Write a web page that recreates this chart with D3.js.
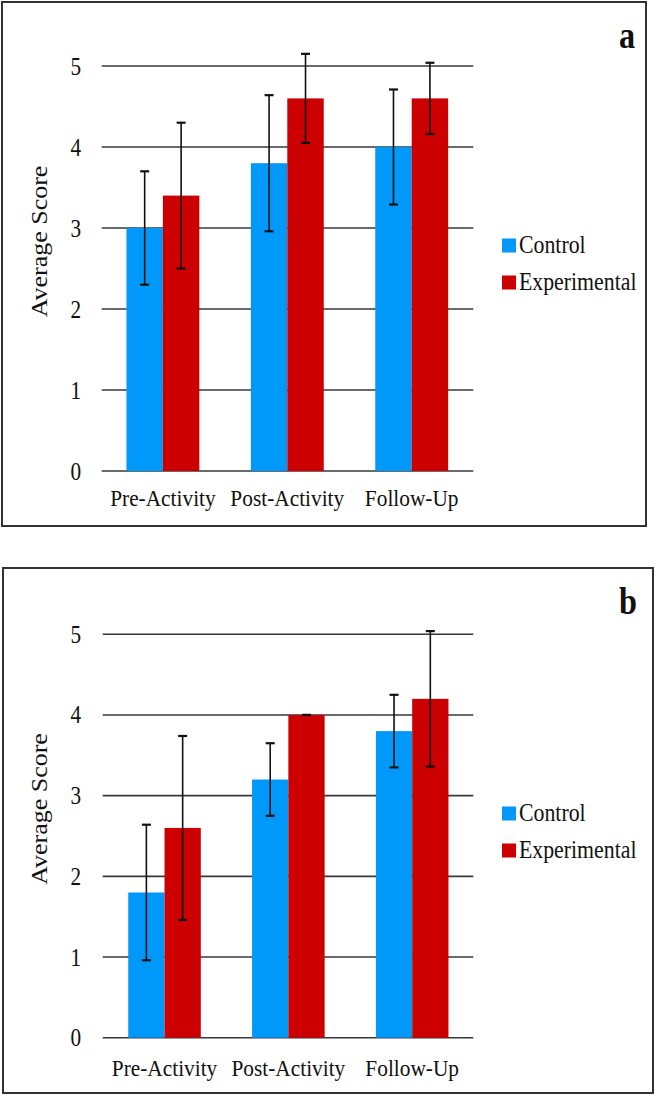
<!DOCTYPE html>
<html>
<head>
<meta charset="utf-8">
<script src="https://cdn.jsdelivr.net/npm/d3@7"></script>
<style>
  html, body { margin: 0; padding: 0; background: #fff; }
  svg { display: block; }
  text { font-family: "Liberation Serif", "Times New Roman", serif; fill: #111; }
</style>
</head>
<body>
<svg id="chart" width="657" height="1098"></svg>
<script>
// ---- data ----
const categories = ["Pre-Activity", "Post-Activity", "Follow-Up"];
const seriesNames = ["Control", "Experimental"];
const seriesColors = ["#0099FA", "#CC0000"];
const yTicks = [0, 1, 2, 3, 4, 5];
const panelLabels = ["a", "b"];
const yAxisTitle = "Average Score";

// panel a
const aControl = [3.0, 3.8, 4.0];
const aControlErr = [0.7, 0.84, 0.71];
const aExperimental = [3.4, 4.6, 4.6];
const aExperimentalErr = [0.9, 0.55, 0.44];

// panel b
const bControl = [1.8, 3.2, 3.8];
const bControlErr = [0.84, 0.45, 0.45];
const bExperimental = [2.6, 4.0, 4.2];
const bExperimentalErr = [1.14, 0.0, 0.84];

// ---- layout ----
const panels = [
  { label: panelLabels[0], values: [aControl, aExperimental], errs: [aControlErr, aExperimentalErr],
    box: [2, 2, 646, 526], x0: 100.7, x1: 473.9, yTop: 66, yZero: 471, gridL: 101.7, gridR: 473.3,
    xLabY: 506, legY: 253 },
  { label: panelLabels[1], values: [bControl, bExperimental], errs: [bControlErr, bExperimentalErr],
    box: [3, 568, 653, 1093], x0: 102.6, x1: 474.1, yTop: 634.3, yZero: 1037.7, gridL: 102.7, gridR: 473.3,
    xLabY: 1076, legY: 821 }
];

const SX = 0.89; // horizontal compression of text
const svg = d3.select("#chart");

panels.forEach(p => {
  const g = svg.append("g");
  // border
  g.append("rect")
    .attr("x", p.box[0]).attr("y", p.box[1])
    .attr("width", p.box[2] - p.box[0]).attr("height", p.box[3] - p.box[1])
    .attr("fill", "none").attr("stroke", "#333").attr("stroke-width", 2);

  const x = d3.scaleBand().domain(categories).range([p.x0, p.x1])
    .paddingInner(0.414).paddingOuter(0.207);
  const xs = d3.scaleBand().domain(seriesNames).range([0, x.bandwidth()]);
  const y = d3.scaleLinear().domain([0, 5]).range([p.yZero, p.yTop]);

  // gridlines
  g.append("g").selectAll("line").data(yTicks).join("line")
    .attr("x1", p.gridL).attr("x2", p.gridR)
    .attr("y1", d => y(d)).attr("y2", d => y(d))
    .attr("stroke", "#383838").attr("stroke-width", 1.6);

  // y tick labels
  g.append("g").selectAll("text").data(yTicks).join("text")
    .attr("transform", d => `translate(81,${y(d) + 8.5}) scale(0.85,1)`)
    .attr("text-anchor", "end").attr("font-size", 25)
    .text(d => d);

  // bars
  seriesNames.forEach((s, si) => {
    g.append("g").selectAll("rect").data(categories).join("rect")
      .attr("x", c => x(c) + xs(s))
      .attr("width", xs.bandwidth())
      .attr("y", (c, i) => y(p.values[si][i]))
      .attr("height", (c, i) => y(0) - y(p.values[si][i]))
      .attr("fill", seriesColors[si]);
  });

  // error bars
  seriesNames.forEach((s, si) => {
    const eg = g.append("g").attr("stroke", "#111");
    categories.forEach((c, i) => {
      const cx = x(c) + xs(s) + xs.bandwidth() / 2;
      const v = p.values[si][i], e = p.errs[si][i];
      eg.append("line").attr("x1", cx).attr("x2", cx)
        .attr("y1", y(v - e)).attr("y2", y(v + e)).attr("stroke-width", 1.6);
      [v - e, v + e].forEach(t => {
        eg.append("line").attr("x1", cx - 4.5).attr("x2", cx + 4.5)
          .attr("y1", y(t)).attr("y2", y(t)).attr("stroke-width", 2.2);
      });
    });
  });

  // x labels
  g.append("g").selectAll("text").data(categories).join("text")
    .attr("transform", c => `translate(${x(c) + x.bandwidth() / 2},${p.xLabY}) scale(${SX},1)`)
    .attr("text-anchor", "middle").attr("font-size", 24)
    .text(c => c);

  // y axis title
  const yc = (p.yTop + p.yZero) / 2 - 27;
  g.append("text")
    .attr("transform", `translate(47,${yc}) scale(0.85,1) rotate(-90)`)
    .attr("text-anchor", "middle").attr("font-size", 26)
    .text(yAxisTitle);

  // legend
  seriesNames.forEach((s, si) => {
    const ly = p.legY + si * 37;
    g.append("rect").attr("x", 502).attr("y", ly - 14.5).attr("width", 14).attr("height", 14)
      .attr("fill", seriesColors[si]);
    g.append("text")
      .attr("transform", `translate(519,${ly}) scale(${SX},1)`)
      .attr("font-size", 24.5).text(s);
  });

  // panel label
  g.append("text")
    .attr("transform", `translate(619,${p.box[1] + 46}) scale(0.85,1)`)
    .attr("font-size", 38).attr("font-weight", "bold")
    .text(p.label);
});
</script>
</body>
</html>
